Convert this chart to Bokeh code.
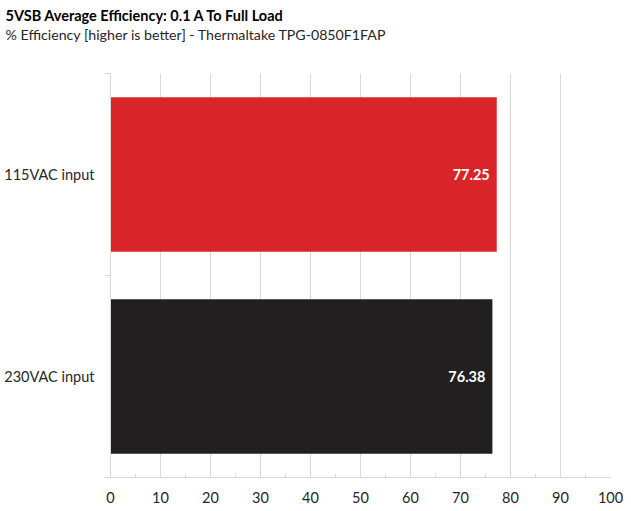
from bokeh.plotting import figure
from bokeh.models import (ColumnDataSource, FactorRange, Range1d, LinearAxis,
                          CategoricalAxis, FixedTicker, Title, LabelSet, Grid)
from bokeh.core.properties import value
from bokeh.embed import file_html
from bokeh.resources import INLINE

# ---- data ----
categories = ["230VAC input", "115VAC input"]
values = [76.38, 77.25]
bar_colors = ["#211f1f", "#d9252a"]
value_labels = ["76.38", "77.25"]
x_ticks = [0, 10, 20, 30, 40, 50, 60, 70, 80, 90, 100]
x_minor_ticks = [5, 15, 25, 35, 45, 55, 65, 75, 85, 95]
boundary_ticks = [0, 1, 2]   # category band boundaries (synthetic coordinates)
title_text = "5VSB Average Efficiency: 0.1 A To Full Load"
subtitle_text = "% Efficiency [higher is better] - Thermaltake TPG-0850F1FAP"

FONT = "Lato"
GRID = "#d9d9d9"
TXT = "#262626"

source = ColumnDataSource(dict(cat=categories, val=values, color=bar_colors, lab=value_labels))

p = figure(width=631, height=511,
           y_range=FactorRange(*categories), x_range=Range1d(0, 100),
           output_backend="svg", toolbar_location=None,
           x_axis_location=None, y_axis_location=None,
           min_border_left=110, min_border_right=21,
           min_border_top=73, min_border_bottom=34)
p.outline_line_color = None
for r in list(p.center):
    if isinstance(r, Grid):
        r.visible = False

# bottom axis
xaxis = LinearAxis(ticker=FixedTicker(ticks=x_ticks, minor_ticks=x_minor_ticks),
                   major_tick_in=0, major_tick_out=0,
                   minor_tick_in=4, minor_tick_out=0,
                   axis_line_color=GRID, minor_tick_line_color=GRID,
                   major_tick_line_color=None,
                   major_label_text_font=FONT, major_label_text_font_size="14.5px",
                   major_label_text_color=TXT, major_label_standoff=14)
p.add_layout(xaxis, "below")

# left boundary-tick axis (nearest frame)
tick_axis = LinearAxis(ticker=FixedTicker(ticks=boundary_ticks),
                       major_tick_in=0, major_tick_out=6,
                       minor_tick_line_color=None,
                       axis_line_color=GRID, major_tick_line_color=GRID,
                       major_label_overrides={0: "", 1: "", 2: ""},
                       major_label_standoff=0)
p.add_layout(tick_axis, "left")

# category label axis
cat_axis = CategoricalAxis(axis_line_color=None, major_tick_line_color=None,
                           minor_tick_line_color=None,
                           major_label_text_font=FONT, major_label_text_font_size="14.5px",
                           major_label_text_color=TXT, major_label_standoff=4)
p.add_layout(cat_axis, "left")

grid = Grid(dimension=0, ticker=xaxis.ticker, grid_line_color=GRID, grid_line_width=1)
p.add_layout(grid)

p.hbar(y="cat", right="val", left=0, height=0.766, color="color",
       line_color=None, source=source)

labels = LabelSet(x="val", y="cat", text="lab", source=source, x_offset=-7,
                  text_align="right", text_baseline="middle",
                  text_color="white", text_font=value(FONT), text_font_style="bold",
                  text_font_size="14.5px")
p.add_layout(labels)

# invisible spacer between subtitle and plot frame (one white tick, no label)
spacer = LinearAxis(ticker=FixedTicker(ticks=[100]), major_tick_in=0, major_tick_out=31,
                    axis_line_color=None, major_tick_line_color="#ffffff",
                    major_tick_line_alpha=0.01,
                    minor_tick_line_color=None, major_label_overrides={100: ""},
                    major_label_standoff=0)
p.add_layout(spacer, "above")

sub = Title(text=subtitle_text, text_font=FONT, text_font_size="14.2px",
            text_font_style="normal", text_color=TXT, align="left",
            offset=-105, standoff=0)
p.add_layout(sub, "above")
main = Title(text=title_text, text_font=FONT, text_font_size="14.5px",
             text_font_style="bold", text_color="#000000", align="left",
             offset=-105, standoff=0)
p.add_layout(main, "above")

open("out.html", "w").write(file_html(p, INLINE))
